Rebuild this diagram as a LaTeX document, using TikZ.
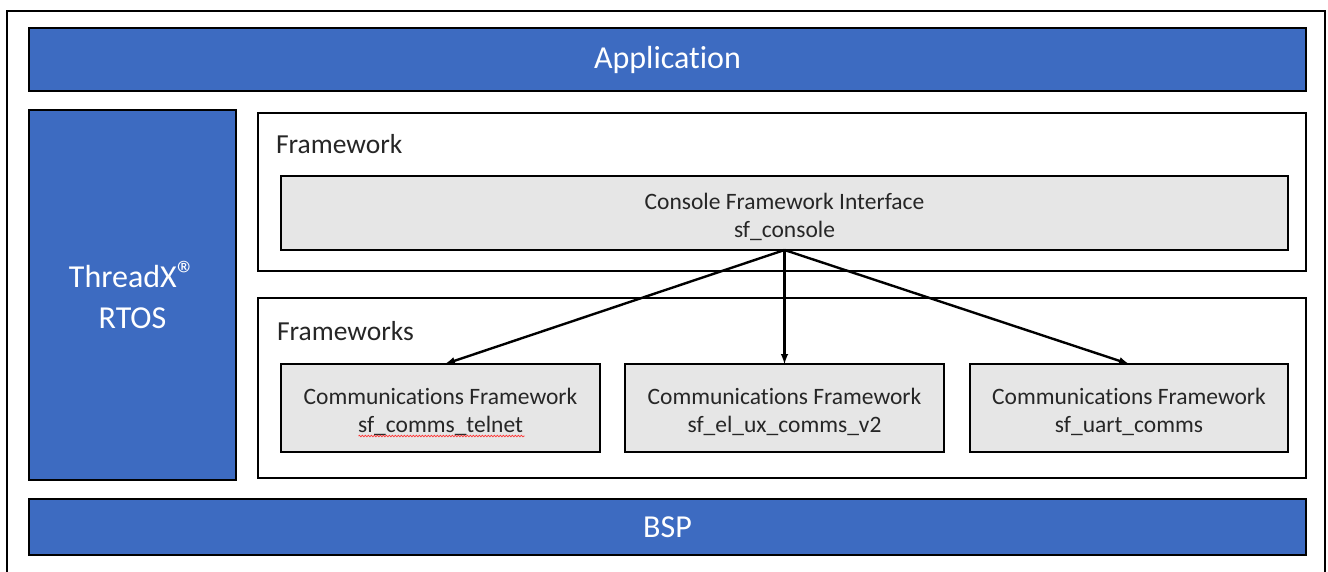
\documentclass[tikz,border=0pt]{standalone}
\usepackage{fontspec}
\setmainfont{Carlito}[Ligatures={NoCommon}]
\usepackage{tikz}
\usetikzlibrary{arrows,positioning,calc,decorations.pathmorphing}

\definecolor{layerblue}{RGB}{61,107,193}
\definecolor{boxgray}{RGB}{230,230,230}

\newcommand{\regmark}{{\fontsize{38}{38}\selectfont ®}}
\newcommand{\topstrut}{\rule{0pt}{25pt}}

\begin{document}
\begin{tikzpicture}[x=1pt,y=-1pt,>=latex,
                    every node/.style={inner sep=0pt,outer sep=0pt}]
  \tikzset{layer/.style={draw=black,line width=1.4pt,fill=layerblue,text=white,
             font=\fontsize{32}{41}\selectfont,align=center},
           group/.style={draw=black,line width=1.4pt,fill=white},
           module/.style={draw=black,line width=1.4pt,fill=boxgray,text=black!85,
             font=\fontsize{23.5}{28}\selectfont,align=center},
           grouplabel/.style={anchor=west,text=black!85,font=\fontsize{27.5}{28}\selectfont},
           link/.style={->,line width=2.4pt}}

  \useasboundingbox (0,0) rectangle (1328,572);
  % outer frame, cut at the bottom
  \draw[line width=1.5pt] (7,572) |- (1325,11) -- (1325,572);

  \node[layer,minimum width=1277pt,minimum height=63pt]	(app)  at (667.5,59.5)	{Application};
  \node[layer,minimum width=207pt,minimum height=370pt]	(rtos) at (132.5,295)	{ThreadX\regmark\\RTOS};
  \node[layer,minimum width=1277pt,minimum height=56pt]	(bsp)  at (667.5,527)	{BSP};

  \node[group,minimum width=1048pt,minimum height=158pt]	(fwtop) at (782,192)	{};
  \node[grouplabel]	(fwtoplbl) at (276,144)	{Framework};
  \node[module,minimum width=1007pt,minimum height=74pt]	(console) at (784.5,213)	{\topstrut Console Framework Interface\\sf\_console};

  \node[group,minimum width=1048pt,minimum height=180pt]	(fwbot) at (782,388)	{};
  \node[grouplabel]	(fwbotlbl) at (277,331)	{Frameworks};
  \node[module,minimum width=319pt,minimum height=88pt]	(telnet) at (440.5,408)	{\topstrut Communications Framework\\sf\_comms\_telnet};
  \node[module,minimum width=319pt,minimum height=88pt]	(elux)   at (784.5,408)	{\topstrut Communications Framework\\sf\_el\_ux\_comms\_v2};
  \node[module,minimum width=318pt,minimum height=88pt]	(uart)   at (1129,408)	{\topstrut Communications Framework\\sf\_uart\_comms};

  % spell check underline
  \draw[red!80,line width=0.7pt,decorate,decoration={snake,amplitude=0.8pt,segment length=3pt}]
    ($(telnet.center)+(-82,28)$) -- ($(telnet.center)+(84,28)$);

  \draw[link] (console.south) -- ($(telnet.north)+(4.5,0)$);
  \draw[link] (console.south) -- (elux.north);
  \draw[link] (console.south) -- (uart.north);
\end{tikzpicture}
\end{document}
